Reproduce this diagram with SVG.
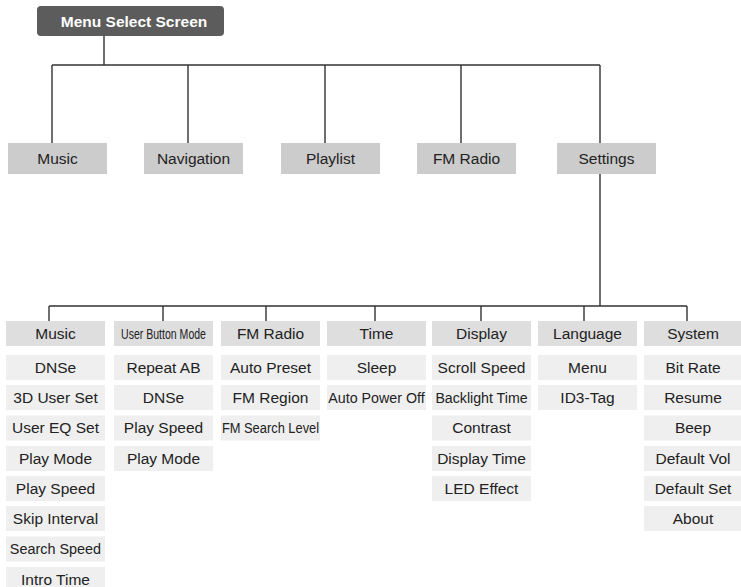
<svg xmlns="http://www.w3.org/2000/svg" width="741" height="587" viewBox="0 0 741 587">
<style>
.l{stroke:#333;stroke-width:1.4;fill:none}
.top{fill:#5c5c5c}
.b1{fill:#cccccc}
.b2{fill:#dedede}
.b3{fill:#efefef}
text{font-family:"Liberation Sans",Arial,sans-serif;font-size:15.5px;fill:#222;text-anchor:middle}
.tt{fill:#fff;font-weight:bold;font-size:15.5px}
</style>
<rect width="741" height="587" fill="#fff"/>
<g id="connectors">
<path class="l" d="M104 36V65M52 65H600M52 65V143M188 65V143M325 65V143M461 65V143M600 65V143M600 174V306M49 306H687M49 306V321M163 306V321M266 306V321M375 306V321M481 306V321M584 306V321M687 306V321"/>
</g>
<g id="menu-select-screen"><rect class="top" x="37" y="6" width="187" height="30" rx="4"/><text class="tt" x="134" y="27">Menu Select Screen</text></g>
<g id="l1-music"><rect class="b1" x="8" y="143" width="99" height="31"/><text x="57.5" y="164">Music</text></g>
<g id="l1-navigation"><rect class="b1" x="144" y="143" width="99" height="31"/><text x="193.5" y="164">Navigation</text></g>
<g id="l1-playlist"><rect class="b1" x="281" y="143" width="99" height="31"/><text x="330.5" y="164">Playlist</text></g>
<g id="l1-fmradio"><rect class="b1" x="417" y="143" width="99" height="31"/><text x="466.5" y="164">FM Radio</text></g>
<g id="l1-settings"><rect class="b1" x="557" y="143" width="99" height="31"/><text x="606.5" y="164">Settings</text></g>

<g id="col-music">
<rect class="b2" x="6" y="321" width="99" height="25"/><text x="55.5" y="338.5">Music</text>
<rect class="b3" x="6" y="355" width="99" height="25"/><text x="55.5" y="372.5">DNSe</text>
<rect class="b3" x="6" y="385" width="99" height="25"/><text x="55.5" y="402.5">3D User Set</text>
<rect class="b3" x="6" y="415.5" width="99" height="25"/><text x="55.5" y="433">User EQ Set</text>
<rect class="b3" x="6" y="446" width="99" height="25"/><text x="55.5" y="463.5">Play Mode</text>
<rect class="b3" x="6" y="476" width="99" height="25"/><text x="55.5" y="493.5">Play Speed</text>
<rect class="b3" x="6" y="506" width="99" height="25"/><text x="55.5" y="523.5">Skip Interval</text>
<rect class="b3" x="6" y="536.5" width="99" height="25"/><text transform="translate(55.5 554) scale(0.93 1)">Search Speed</text>
<rect class="b3" x="6" y="567" width="99" height="25"/><text x="55.5" y="584.5">Intro Time</text>
</g>
<g id="col-userbutton">
<rect class="b2" x="114" y="321" width="99" height="25"/><text transform="translate(163.5 338.5) scale(0.68 1)">User Button Mode</text>
<rect class="b3" x="114" y="355" width="99" height="25"/><text x="163.5" y="372.5">Repeat AB</text>
<rect class="b3" x="114" y="385" width="99" height="25"/><text x="163.5" y="402.5">DNSe</text>
<rect class="b3" x="114" y="415.5" width="99" height="25"/><text x="163.5" y="433">Play Speed</text>
<rect class="b3" x="114" y="446" width="99" height="25"/><text x="163.5" y="463.5">Play Mode</text>
</g>
<g id="col-fmradio">
<rect class="b2" x="221" y="321" width="99" height="25"/><text x="270.5" y="338.5">FM Radio</text>
<rect class="b3" x="221" y="355" width="99" height="25"/><text x="270.5" y="372.5">Auto Preset</text>
<rect class="b3" x="221" y="385" width="99" height="25"/><text x="270.5" y="402.5">FM Region</text>
<rect class="b3" x="221" y="415.5" width="99" height="25"/><text transform="translate(270.5 433) scale(0.83 1)">FM Search Level</text>
</g>
<g id="col-time">
<rect class="b2" x="327" y="321" width="99" height="25"/><text x="376.5" y="338.5">Time</text>
<rect class="b3" x="327" y="355" width="99" height="25"/><text x="376.5" y="372.5">Sleep</text>
<rect class="b3" x="327" y="385" width="99" height="25"/><text transform="translate(376.5 402.5) scale(0.92 1)">Auto Power Off</text>
</g>
<g id="col-display">
<rect class="b2" x="432" y="321" width="99" height="25"/><text x="481.5" y="338.5">Display</text>
<rect class="b3" x="432" y="355" width="99" height="25"/><text x="481.5" y="372.5">Scroll Speed</text>
<rect class="b3" x="432" y="385" width="99" height="25"/><text transform="translate(481.5 402.5) scale(0.915 1)">Backlight Time</text>
<rect class="b3" x="432" y="415.5" width="99" height="25"/><text x="481.5" y="433">Contrast</text>
<rect class="b3" x="432" y="446" width="99" height="25"/><text x="481.5" y="463.5">Display Time</text>
<rect class="b3" x="432" y="476" width="99" height="25"/><text x="481.5" y="493.5">LED Effect</text>
</g>
<g id="col-language">
<rect class="b2" x="538" y="321" width="99" height="25"/><text x="587.5" y="338.5">Language</text>
<rect class="b3" x="538" y="355" width="99" height="25"/><text x="587.5" y="372.5">Menu</text>
<rect class="b3" x="538" y="385" width="99" height="25"/><text x="587.5" y="402.5">ID3-Tag</text>
</g>
<g id="col-system">
<rect class="b2" x="644" y="321" width="98" height="25"/><text x="693" y="338.5">System</text>
<rect class="b3" x="644" y="355" width="98" height="25"/><text x="693" y="372.5">Bit Rate</text>
<rect class="b3" x="644" y="385" width="98" height="25"/><text x="693" y="402.5">Resume</text>
<rect class="b3" x="644" y="415.5" width="98" height="25"/><text x="693" y="433">Beep</text>
<rect class="b3" x="644" y="446" width="98" height="25"/><text x="693" y="463.5">Default Vol</text>
<rect class="b3" x="644" y="476" width="98" height="25"/><text x="693" y="493.5">Default Set</text>
<rect class="b3" x="644" y="506" width="98" height="25"/><text x="693" y="523.5">About</text>
</g>
</svg>
